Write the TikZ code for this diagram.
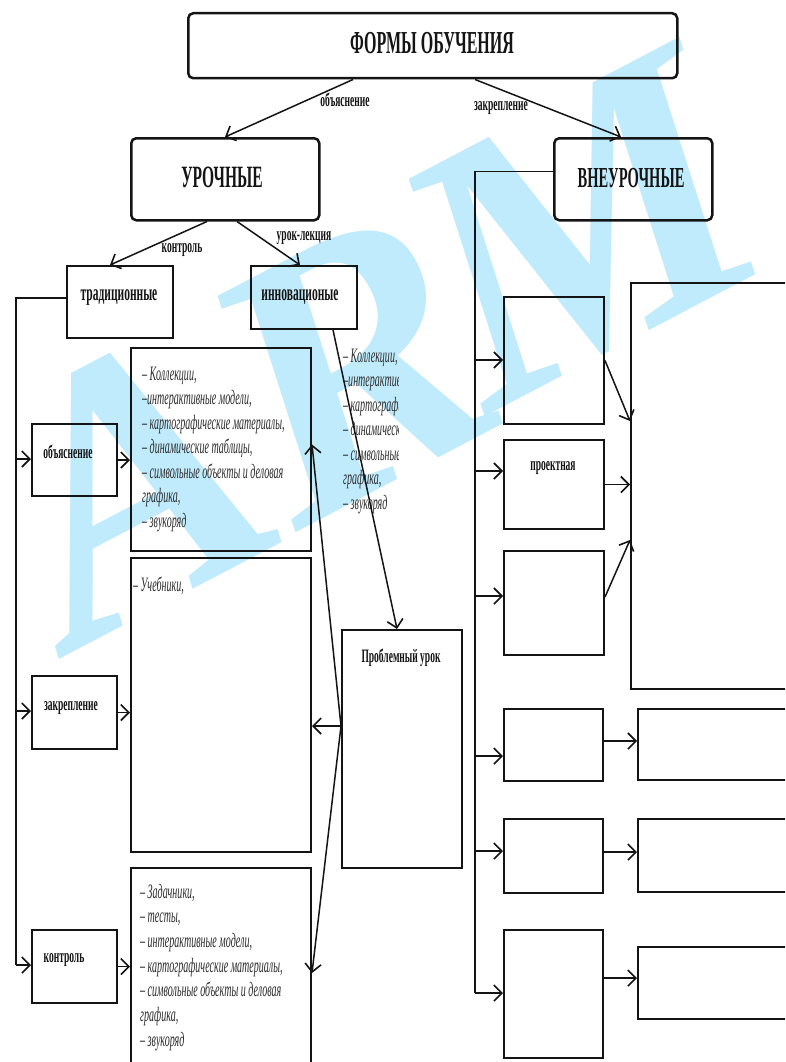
\documentclass[tikz,border=0pt]{standalone}
\usepackage{fontspec}
\setmainfont{Liberation Serif}
\newfontfamily\labfont{Liberation Serif}[FakeStretch=0.5]
\newfontfamily\itfont{Liberation Serif}[FakeStretch=0.49]
\newfontfamily\wmfont{Liberation Serif}
\usetikzlibrary{arrows.meta}
\definecolor{wm}{RGB}{192,235,252}
\definecolor{ink}{RGB}{20,20,20}
\begin{document}
\begin{tikzpicture}[x=1pt,y=-1pt,
  box/.style={draw=ink, line width=2pt, inner sep=0pt, anchor=north west},
  rbox/.style={box, rounded corners=5pt, line width=2.5pt},
  conn/.style={draw=ink, line width=1.5pt},
  arr/.style={conn, -{Straight Barb[length=8pt,width=16pt,line width=1.6pt]}},
  lab/.style={font=\labfont\bfseries\fontsize{19}{22}\selectfont, inner sep=0pt, anchor=base, text=ink},
  biglab/.style={lab, font=\labfont\bfseries\fontsize{23}{26}\selectfont},
  itl/.style={font=\itfont\itshape\fontsize{20.5}{22}\selectfont, inner sep=0pt, anchor=base west, text=ink!90},
  wmk/.style={font=\wmfont\bfseries\itshape\fontsize{375}{375}\selectfont, text=wm, inner sep=0pt, anchor=center, rotate=27.7}
]
\useasboundingbox (0,0) rectangle (785,1062);
\clip (0,0) rectangle (785,1062);
\fill[white] (0,0) rectangle (785,1062);
% watermark
\node[wmk] (wA) at (130,483) {A};
\node[wmk] (wR) at (350,366) {R};
\node[wmk] (wM) at (580,228) {M};

% boxes
\node[rbox, minimum width=489pt, minimum height=65pt] (top) at (187,12) {};
\node[rbox, minimum width=188pt, minimum height=82pt] (uro) at (130,137) {};
\node[rbox, minimum width=158pt, minimum height=82pt] (vne) at (553,137) {};
\node[box, minimum width=106pt, minimum height=72pt] (trad) at (66,265) {};
\node[box, minimum width=106pt, minimum height=63pt] (inno) at (250,265) {};
\node[box, minimum width=85pt, minimum height=72pt] (obj) at (31,423) {};
\node[box, minimum width=85pt, minimum height=73pt] (zak) at (31,675) {};
\node[box, minimum width=85pt, minimum height=73pt] (kon) at (31,929) {};
\node[box, minimum width=180pt, minimum height=203pt] (c1) at (130,347) {};
\node[box, minimum width=180pt, minimum height=294pt] (c2) at (130,557) {};
\node[box, minimum width=180pt, minimum height=250pt] (c3) at (130,867) {};
\node[box, minimum width=120pt, minimum height=238pt] (prob) at (341,629) {};
\node[box, minimum width=100pt, minimum height=127pt] (a1) at (503,296) {};
\node[box, minimum width=100pt, minimum height=89pt] (a2) at (503,439) {};
\node[box, minimum width=100pt, minimum height=104pt] (a3) at (503,550) {};
\node[box, minimum width=200pt, minimum height=406pt] (big) at (630,282) {};
\node[box, minimum width=99pt, minimum height=72pt] (b1) at (503,708) {};
\node[box, minimum width=200pt, minimum height=71pt] (r1) at (637,708) {};
\node[box, minimum width=99pt, minimum height=74pt] (b2) at (503,818) {};
\node[box, minimum width=200pt, minimum height=73pt] (r2) at (637,818) {};
\node[box, minimum width=99pt, minimum height=128pt] (b3) at (503,929) {};
\node[box, minimum width=200pt, minimum height=72pt] (r3) at (637,946) {};

% labels
\node[lab, font=\labfont\bfseries\fontsize{32}{36}\selectfont] (tTop) at (432,54) {ФОРМЫ ОБУЧЕНИЯ};
\node[lab, font=\labfont\bfseries\fontsize{31}{34}\selectfont] (tUro) at (222,187) {УРОЧНЫЕ};
\node[lab, font=\labfont\bfseries\fontsize{29}{32}\selectfont] (tVne) at (631,187) {ВНЕУРОЧНЫЕ};
\node[lab] (e1) at (345,107) {объяснение};
\node[lab] (e2) at (501,111) {закрепление};
\node[lab] (e3) at (182,252) {контроль};
\node[lab] (e4) at (304,240) {урок-лекция};
\node[biglab] (tTrad) at (119,300) {традиционные};
\node[biglab] (tInno) at (300,300) {инновационые};
\node[lab] (tObj) at (68,458) {объяснение};
\node[lab] (tZak) at (71,710) {закрепление};
\node[lab] (tKon) at (64,962) {контроль};
\node[lab] (tPro) at (553,470) {проектная};
\node[lab] (tProb) at (401,662) {Проблемный урок};

% italic lists
\foreach \t [count=\i] in {{– Коллекции,},{–интерактивные модели,},{– картографические материалы,},{– динамические таблицы,},{– символьные объекты и деловая},{графика,},{– звукоряд}}
  \node[itl] (la\i) at (142,{380+24.5*(\i-1)}) {\t};
\node[itl] (lb1) at (133,591) {– Учебники,};
\foreach \t [count=\i] in {{– Задачники,},{– тесты,},{– интерактивные модели,},{– картографические материалы,},{– символьные объекты и деловая},{графика,},{– звукоряд}}
  \node[itl] (lc\i) at (140,{898+24.7*(\i-1)}) {\t};
\begin{scope}
\clip (340,335) rectangle (398,520);
\foreach \t [count=\i] in {{– Коллекции,},{–интерактивные модели,},{– картографические материалы,},{– динамические таблицы,},{– символьные объекты и деловая},{графика,},{– звукоряд}}
  \node[itl] (ld\i) at (343,{362+24.5*(\i-1)}) {\t};
\end{scope}

% connectors top
\draw[arr] ([xshift=166pt]top.south west) -- ([xshift=95pt]uro.north west);
\draw[arr] ([xshift=288pt]top.south west) -- ([xshift=68pt]vne.north west);
\draw[arr] ([xshift=77pt]uro.south west) -- ([xshift=44pt]trad.north west);
\draw[arr] ([xshift=107pt]uro.south west) -- ([xshift=50pt]inno.north west);

% left bus
\coordinate (lb1c) at (16,459);
\coordinate (lb2c) at (16,711);
\coordinate (lb3c) at (16,965);
\draw[conn] ([yshift=4pt]trad.west) -| (lb3c);
\draw[arr] (lb1c) -- (lb1c -| obj.west);
\draw[arr] (lb2c) -- (lb2c -| zak.west);
\draw[arr] (lb3c) -- (lb3c -| kon.west);
\draw[arr] (obj.east) -- (obj.east -| c1.west);
\draw[arr] (zak.east) -- (zak.east -| c2.west);
\draw[arr] (kon.east) -- (kon.east -| c3.west);

% innovative -> problem lesson
\draw[arr] ([xshift=83pt]inno.south west) -- ([xshift=56pt]prob.north west);
\coordinate (pw) at ([yshift=23pt]prob.west);
\draw[arr] (pw) -- ([yshift=5pt]c1.east);
\draw[arr, line width=2.2pt] (pw) -- (pw -| c2.east);
\draw[arr] (pw) -- ([yshift=-106pt]c3.north east);

% right bus
\coordinate (rb1) at (475,360);
\coordinate (rb2) at (475,471);
\coordinate (rb3) at (475,596);
\coordinate (rb4) at (475,756);
\coordinate (rb5) at (475,851);
\coordinate (rb6) at (475,993);
\draw[conn] ([yshift=8pt]vne.west) -| (rb6);
\draw[arr] (rb1) -- (rb1 -| a1.west);
\draw[arr] (rb2) -- (rb2 -| a2.west);
\draw[arr] (rb3) -- (rb3 -| a3.west);
\draw[arr] (rb4) -- (rb4 -| b1.west);
\draw[arr] (rb5) -- (rb5 -| b2.west);
\draw[arr] (rb6) -- (rb6 -| b3.west);
\draw[arr] (a1.east) -- ([yshift=65pt]big.west);
\draw[arr] (a2.east) -- (a2.east -| big.west);
\draw[arr] ([yshift=6pt]a3.east) -- ([yshift=-54pt]big.west);
\draw[arr] ([yshift=4pt]b1.east) -- ([yshift=4pt]b1.east -| r1.west);
\draw[arr] ([yshift=4pt]b2.east) -- ([yshift=4pt]b2.east -| r2.west);
\draw[arr] ([yshift=16pt]b3.east) -- ([yshift=16pt]b3.east -| r3.west);
\end{tikzpicture}
\end{document}
